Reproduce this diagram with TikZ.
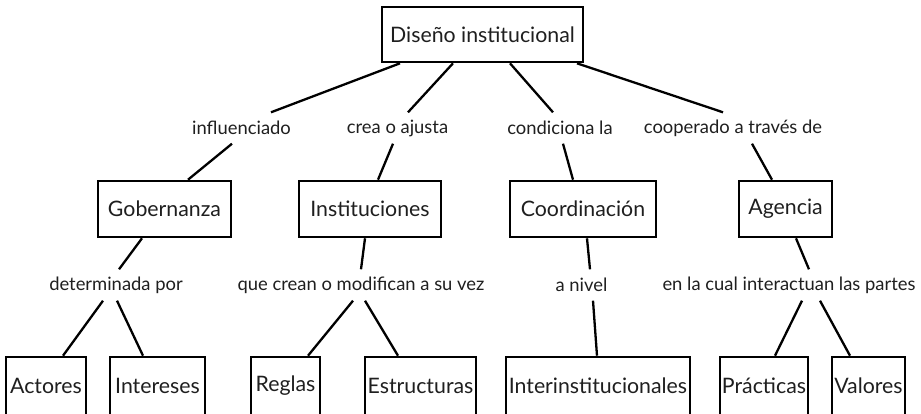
\documentclass[tikz,border=0pt]{standalone}
\usepackage{fontspec}
\setmainfont{Lato}
\begin{document}
\begin{tikzpicture}[x=1pt,y=-1pt,
  every node/.style={inner sep=0pt, text=black!88},
  box/.style={draw=black, line width=2.6pt, minimum height=#1, font=\fontsize{21.3}{24}\selectfont},
  box/.default=56,
  lab/.style={minimum height=31, font=\fontsize{18.4}{22}\selectfont},
  conn/.style={line width=2.3pt}]
\useasboundingbox (0,0) rectangle (921,413);
\fill[white] (0,0) rectangle (921,413);
% boxes
\node[box=55, minimum width=201] (top) at (482.5,34.5) {Diseño institucional};
\node[box, minimum width=133] (gob) at (164.5,209) {Gobernanza};
\node[box, minimum width=142] (inst) at (370,209) {Instituciones};
\node[box, minimum width=146] (coord) at (583,209) {Coordinación};
\node[box, minimum width=93] (ag) at (785.5,209) {Agencia};
\node[box=58, minimum width=80] (act) at (46,386) {Actores};
\node[box=58, minimum width=95] (int) at (157.5,386) {Intereses};
\node[box=58, minimum width=69] (reg) at (285.5,386) {Reglas};
\node[box=58, minimum width=111] (est) at (420.5,386) {Estructuras};
\node[box=58, minimum width=184] (interi) at (598,386) {Interinstitucionales};
\node[box=58, minimum width=88] (pra) at (764,386) {Prácticas};
\node[box=58, minimum width=73] (val) at (868.5,386) {Valores};
% labels
\node[lab] (infl) at (241.5,128) {influenciado};
\node[lab] (crea) at (397.5,128) {crea o ajusta};
\node[lab] (cond) at (560,128) {condiciona la};
\node[lab] (coop) at (733,128) {cooperado a través de};
\node[lab] (det) at (116,285) {determinada por};
\node[lab] (que) at (361,285) {que crean o modifican a su vez};
\node[lab] (niv) at (581.5,285) {a nivel};
\node[lab] (en) at (789,285) {en la cual interactuan las partes};
% connectors
\draw[conn] ([xshift=-82.5pt]top.south) -- ([xshift=29.5pt]infl.north);
\draw[conn] ([xshift=-9.5pt]infl.south) -- ([xshift=23.5pt]gob.north);
\draw[conn] ([xshift=-29.5pt]top.south) -- ([xshift=10.5pt]crea.north);
\draw[conn] ([xshift=-4.5pt]crea.south) -- ([xshift=8pt]inst.north);
\draw[conn] ([xshift=27.5pt]top.south) -- ([xshift=-7pt]cond.north);
\draw[conn] ([xshift=3pt]cond.south) -- ([xshift=-10pt]coord.north);
\draw[conn] ([xshift=94.5pt]top.south) -- ([xshift=-10pt]coop.north);
\draw[conn] ([xshift=19pt]coop.south) -- ([xshift=-13.5pt]ag.north);
\draw[conn] ([xshift=-22.5pt]gob.south) -- ([xshift=3pt]det.north);
\draw[conn] ([xshift=-13pt]det.south) -- ([xshift=17pt]act.north);
\draw[conn] ([xshift=1pt]det.south) -- ([xshift=-14.5pt]int.north);
\draw[conn] ([xshift=-5pt]inst.south) -- (que.north);
\draw[conn] ([xshift=-8pt]que.south) -- ([xshift=22.5pt]reg.north);
\draw[conn] ([xshift=4pt]que.south) -- ([xshift=-22.5pt]est.north);
\draw[conn] ([xshift=4pt]coord.south) -- ([xshift=8.5pt]niv.north);
\draw[conn] ([xshift=11.5pt]niv.south) -- ([xshift=-1pt]interi.north);
\draw[conn] ([xshift=10.5pt]ag.south) -- ([xshift=20pt]en.north);
\draw[conn] ([xshift=13pt]en.south) -- ([xshift=11pt]pra.north);
\draw[conn] ([xshift=31pt]en.south) -- ([xshift=-18.5pt]val.north);
\end{tikzpicture}
\end{document}
